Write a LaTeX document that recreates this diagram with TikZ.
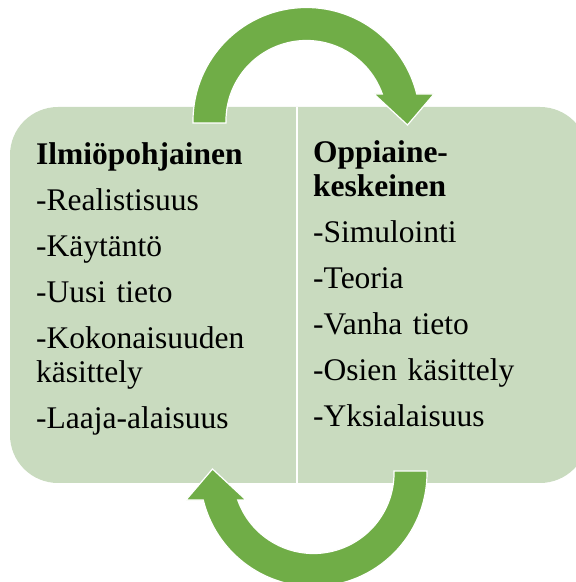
\documentclass[tikz,border=0pt]{standalone}
\usepackage{fontspec}
\setmainfont{Liberation Serif}
\usetikzlibrary{positioning}
\definecolor{panelgreen}{RGB}{201,219,191}
\definecolor{arrowgreen}{RGB}{112,173,71}

\begin{document}
\begin{tikzpicture}[
  x=1pt, y=1pt,
  panel/.style={fill=panelgreen, rounded corners=48pt, minimum width=578pt, minimum height=376pt, inner sep=0pt},
  txt/.style={anchor=base west, align=left, text width=250pt, inner sep=0pt, font=\fontsize{31.5}{34}\selectfont},
  bigarrow/.style={fill=arrowgreen, draw=white, line width=1.2pt},
  divider/.style={draw=white, line width=2pt}
]
\useasboundingbox (0,0) rectangle (576,582);

% the two halves share one rounded panel
\node[panel] (panel) at (299,287) {};
\coordinate (split) at (297,287);
\draw[divider] (split |- panel.north) -- (split |- panel.south);

\node[txt] (phenom) at (36,417)
  {\textbf{Ilmiöpohjainen}\\[12pt]
   -Realistisuus\\[12pt]
   -Käytäntö\\[12pt]
   -Uusi tieto\\[12pt]
   -Kokonaisuuden\\käsittely\\[12pt]
   -Laaja-alaisuus};
\node[txt] (subject) at (313,419)
  {\textbf{Oppiaine-}\\\textbf{keskeinen}\\[12pt]
   -Simulointi\\[12pt]
   -Teoria\\[12pt]
   -Vanha tieto\\[12pt]
   -Osien käsittely\\[12pt]
   -Yksialaisuus};

% cycle arrows, the lower one is the upper one turned round
\coordinate (topc) at (306.5,461);
\coordinate (botc) at (313.5,109);
\foreach \c/\r in {topc/0, botc/180}
  \filldraw[bigarrow, shift={(\c)}, rotate=\r]
    (-113.5,-2) -- (-113.5,0) arc[start angle=180, end angle=13.8, radius=113.5]
    -- (127.5,27) -- (101,-4) -- (67.5,27) -- (75.8,27)
    arc[start angle=19.6, end angle=180, radius=80.5] -- (-80.5,-2) -- cycle;

\end{tikzpicture}
\end{document}
